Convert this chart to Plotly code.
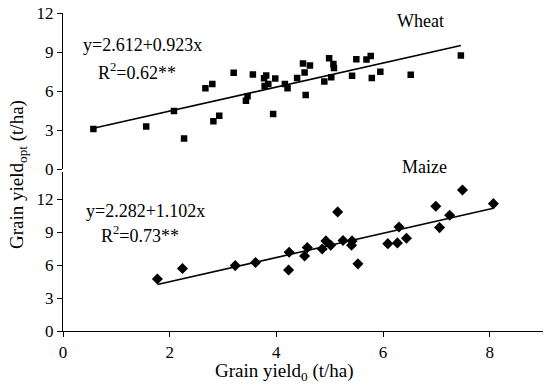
import plotly.graph_objects as go

wheat_x = [0.57, 1.56, 2.08, 2.27, 2.67, 2.80, 2.82, 2.93, 3.20, 3.43, 3.46, 3.56, 3.77, 3.81,
           3.78, 3.85, 3.94, 3.98, 4.16, 4.21, 4.39, 4.50, 4.53, 4.63, 4.55, 4.99, 5.07, 5.08,
           5.03, 4.90, 5.42, 5.50, 5.69, 5.77, 5.95, 5.79, 6.52, 7.46]
wheat_y = [3.09, 3.27, 4.47, 2.36, 6.21, 6.55, 3.69, 4.10, 7.40, 5.25, 5.61, 7.27, 6.99, 7.19,
           6.39, 6.55, 4.23, 6.96, 6.55, 6.21, 7.01, 8.11, 7.43, 7.97, 5.69, 8.52, 8.08, 7.77,
           7.07, 6.73, 7.17, 8.44, 8.42, 8.70, 7.48, 7.01, 7.25, 8.73]

maize_x = [1.77, 2.24, 3.23, 3.61, 4.24, 4.23, 4.58, 4.53, 4.86, 4.93, 5.02, 5.15, 5.25,
           5.42, 5.41, 5.53, 6.09, 6.27, 6.30, 6.44, 6.99, 7.06, 7.25, 7.49, 8.07]
maize_y = [4.74, 5.68, 5.95, 6.23, 7.17, 5.56, 7.59, 6.83, 7.47, 8.20, 7.80, 10.84, 8.23,
           8.20, 7.80, 6.11, 7.95, 8.02, 9.47, 8.44, 11.35, 9.41, 10.53, 12.84, 11.59]

wheat_fit = (2.612, 0.923)
maize_fit = (2.282, 1.102)
wheat_line_x = [min(wheat_x), max(wheat_x)]
maize_line_x = [min(maize_x), max(maize_x)]

y_ticks = [0, 3, 6, 9, 12]
x_ticks = [0, 2, 4, 6, 8]

FONT = "Liberation Serif"

fig = go.Figure()
fig.add_trace(go.Scatter(x=wheat_x, y=wheat_y, mode="markers", xaxis="x2", yaxis="y2",
                         marker=dict(symbol="square", size=6.5, color="black"), showlegend=False))
fig.add_trace(go.Scatter(x=wheat_line_x, y=[wheat_fit[0] + wheat_fit[1] * v for v in wheat_line_x],
                         mode="lines", xaxis="x2", yaxis="y2",
                         line=dict(color="black", width=1.6), showlegend=False))
fig.add_trace(go.Scatter(x=maize_x, y=maize_y, mode="markers", xaxis="x", yaxis="y",
                         marker=dict(symbol="diamond", size=8.5, color="black"), showlegend=False))
fig.add_trace(go.Scatter(x=maize_line_x, y=[maize_fit[0] + maize_fit[1] * v for v in maize_line_x],
                         mode="lines", xaxis="x", yaxis="y",
                         line=dict(color="black", width=1.6), showlegend=False))

axis_common = dict(showgrid=False, zeroline=False, showline=True, linecolor="black", linewidth=1.2,
                   ticks="outside", ticklen=5, tickcolor="black", tickwidth=1.2, automargin=False,
                   tickfont=dict(family=FONT, size=17, color="black"))

fig.update_layout(
    width=550, height=389,
    margin=dict(l=63, r=7, t=13, b=58, autoexpand=False),
    paper_bgcolor="white", plot_bgcolor="white",
    font=dict(family=FONT, color="black"),
    xaxis=dict(range=[0, 9], tickvals=x_ticks, domain=[0, 1], anchor="y", **axis_common),
    yaxis=dict(range=[0, 14.5], tickvals=y_ticks, domain=[0, 0.501], anchor="x", **axis_common),
    xaxis2=dict(range=[0, 9], domain=[0, 1], anchor="y2", visible=False, matches="x",
                automargin=False),
    yaxis2=dict(range=[0, 12], tickvals=y_ticks, domain=[0.509, 1], anchor="x2", **axis_common),
)

ann = [
    dict(text="y=2.612+0.923x", x=81, y=45, size=18),
    dict(text="R<sup>2</sup>=0.62**", x=96, y=72, size=18),
    dict(text="Wheat", x=395, y=21, size=18),
    dict(text="y=2.282+1.102x", x=84, y=211, size=18),
    dict(text="R<sup>2</sup>=0.73**", x=99, y=234, size=18),
    dict(text="Maize", x=400, y=167, size=18),
]
for a in ann:
    fig.add_annotation(text=a["text"], xref="paper", yref="paper",
                       x=(a["x"] - 63) / 480, y=1 - (a["y"] - 13) / 318,
                       xanchor="left", yanchor="middle", showarrow=False,
                       font=dict(family=FONT, size=a["size"], color="black"))

fig.add_annotation(text="Grain yield<sub>0</sub> (t/ha)", xref="paper", yref="paper",
                   x=(284 - 63) / 480, y=1 - (372 - 13) / 318, xanchor="center", yanchor="middle",
                   showarrow=False, font=dict(family=FONT, size=19, color="black"))
fig.add_annotation(text="Grain yield<sub>opt</sub> (t/ha)", xref="paper", yref="paper",
                   x=(18 - 63) / 480, y=1 - (175 - 13) / 318, xanchor="center", yanchor="middle",
                   textangle=-90, showarrow=False, font=dict(family=FONT, size=19, color="black"))

fig.write_html("out.html", config={"displayModeBar": False},
               post_script="document.body.style.margin='0';")
